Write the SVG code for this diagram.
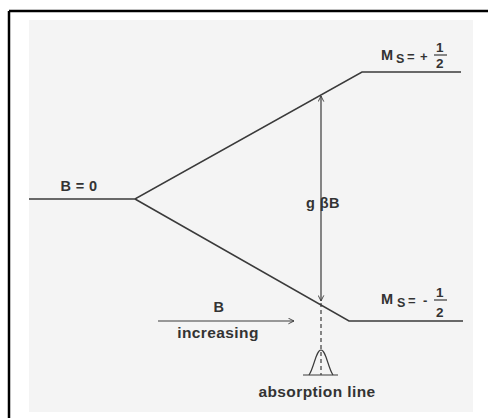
<svg xmlns="http://www.w3.org/2000/svg" width="488" height="418" viewBox="0 0 488 418">
  <defs>
    <style>
      .ln { stroke: #3a3a3a; stroke-width: 1.5; fill: none; }
      .thin { stroke: #3a3a3a; stroke-width: 1.2; fill: none; }
      .t { font-family: "Liberation Sans", Arial, sans-serif; font-weight: bold; fill: #333; letter-spacing: 0.4px; }
    </style>
    <marker id="open" viewBox="0 0 10 10" refX="9" refY="5" markerWidth="7" markerHeight="7" orient="auto-start-reverse" markerUnits="userSpaceOnUse">
      <path d="M1,1 L9,5 L1,9" fill="none" stroke="#3a3a3a" stroke-width="1.3"/>
    </marker>
  </defs>
  <rect x="0" y="0" width="488" height="418" fill="#ffffff"/>
  <rect x="29" y="20" width="444" height="392" fill="#f4f4f4"/>
  <line x1="9" y1="11" x2="488" y2="11" stroke="#000" stroke-width="2.5"/>
  <line x1="9" y1="11" x2="9" y2="418" stroke="#000" stroke-width="2.5"/>

  <g id="levels">
    <polyline class="ln" points="29,199 135,199 362,72 461,72"/>
    <polyline class="ln" points="135,199 349,321 463,321"/>
  </g>

  <g id="connectors">
    <line class="thin" x1="321" y1="96" x2="321" y2="301" marker-start="url(#open)" marker-end="url(#open)"/>
    <line class="thin" x1="321" y1="303" x2="321" y2="375" stroke-dasharray="4,3"/>
    <line class="thin" x1="158" y1="321" x2="294" y2="321" marker-end="url(#open)"/>
  </g>

  <g id="absorption">
    <line class="thin" x1="303" y1="375" x2="338" y2="375"/>
    <path class="thin" d="M309,375 C314,368 316,350 321,350 C326,350 328,368 333,375"/>
  </g>

  <g id="labels">
    <text class="t" x="79" y="191" font-size="14.5" text-anchor="middle">B = 0</text>
    <text class="t" x="323" y="208" font-size="14.5" text-anchor="middle">g βB</text>
    <text class="t" x="219" y="312" font-size="14.5" text-anchor="middle">B</text>
    <text class="t" x="218" y="338" font-size="15.5" text-anchor="middle">increasing</text>
    <text class="t" x="317" y="397" font-size="15.5" text-anchor="middle">absorption line</text>

    <g id="ms-plus">
      <text class="t" x="381" y="60" font-size="14.5">M</text>
      <text class="t" x="396" y="63" font-size="12.5">S</text>
      <text class="t" x="407" y="61" font-size="13">=</text>
      <text class="t" x="420" y="61" font-size="13">+</text>
      <text class="t" x="440" y="52" font-size="13.5" text-anchor="middle">1</text>
      <line class="thin" x1="434" y1="55" x2="447" y2="55"/>
      <text class="t" x="440" y="68" font-size="13.5" text-anchor="middle">2</text>
    </g>
    <g id="ms-minus">
      <text class="t" x="381" y="304" font-size="14.5">M</text>
      <text class="t" x="397" y="307" font-size="12.5">S</text>
      <text class="t" x="408" y="305" font-size="13">=</text>
      <text class="t" x="423" y="305" font-size="13">-</text>
      <text class="t" x="440" y="297" font-size="13.5" text-anchor="middle">1</text>
      <line class="thin" x1="434" y1="300" x2="447" y2="300"/>
      <text class="t" x="440" y="317" font-size="13.5" text-anchor="middle">2</text>
    </g>
  </g>
</svg>
